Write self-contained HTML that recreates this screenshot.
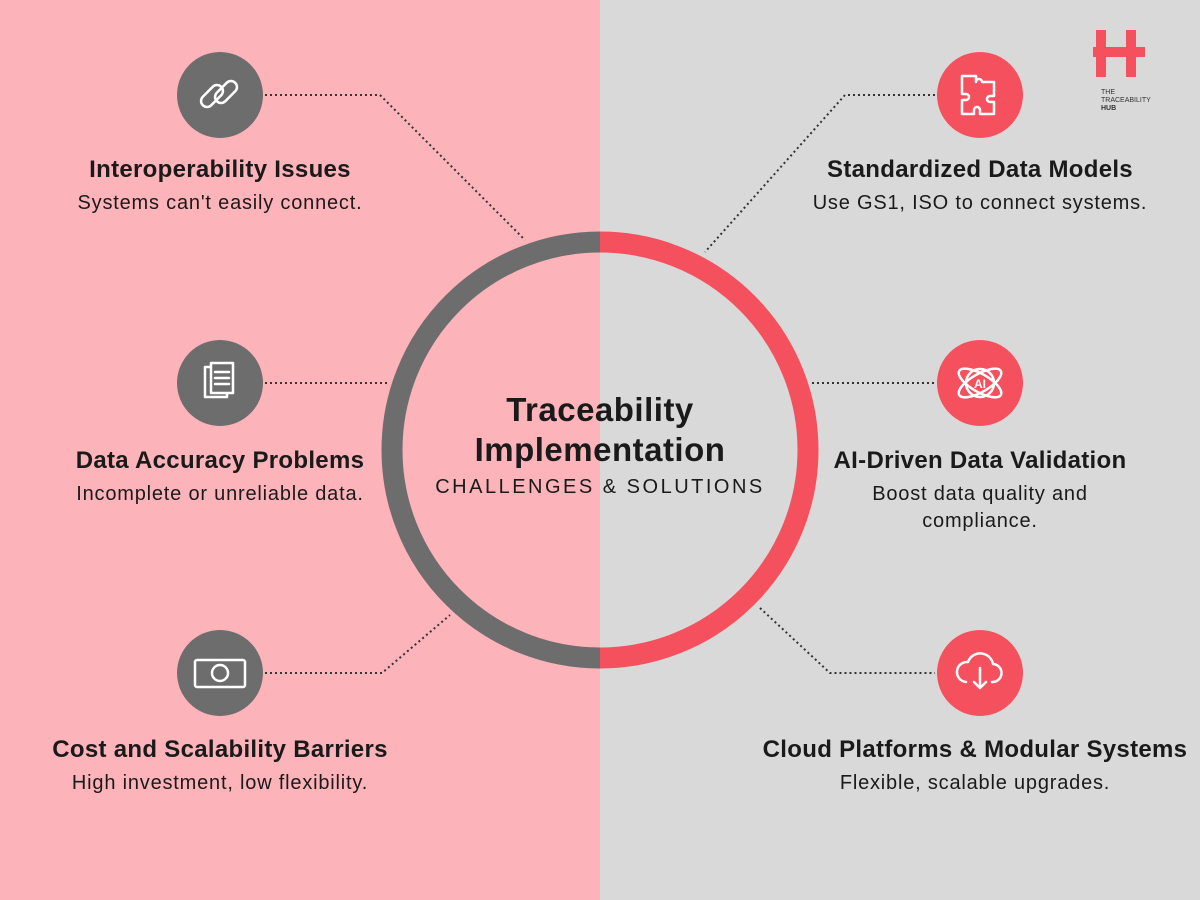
<!DOCTYPE html>
<html><head><meta charset="utf-8"><style>
body{margin:0}
#c{position:relative;width:1200px;height:900px;overflow:hidden;font-family:"Liberation Sans","DejaVu Sans",sans-serif;background:linear-gradient(90deg,#fdb3ba 0,#fdb3ba 600px,#d9d9d9 600px)}
.t{position:absolute;width:440px;text-align:center;color:#1a1a1a;white-space:nowrap}
.t b{display:block;font-size:24px;margin-bottom:6px;letter-spacing:0.3px}
.t span{font-size:20px;line-height:27px;letter-spacing:0.8px}
</style></head><body><div id="c">
<svg width="1200" height="900" style="position:absolute;left:0;top:0">
<g fill="none" stroke="#333" stroke-width="2" stroke-dasharray="2 3">
<polyline points="265,95 380,95 525,240"/>
<polyline points="265,383 388,383"/>
<polyline points="265,673 382,673 450,615"/>
<polyline points="935,95 845,95 705,252"/>
<polyline points="812,383 935,383"/>
<polyline points="760,608 830,673 935,673"/>
</g>
<path d="M600,242 A208,208 0 0 0 600,658" fill="none" stroke="#6d6d6d" stroke-width="21"/>
<path d="M600,242 A208,208 0 0 1 600,658" fill="none" stroke="#f5505d" stroke-width="21"/>
<g fill="#6d6d6d"><circle cx="220" cy="95" r="43"/><circle cx="220" cy="383" r="43"/><circle cx="220" cy="673" r="43"/></g>
<g fill="#f5505d"><circle cx="980" cy="95" r="43"/><circle cx="980" cy="383" r="43"/><circle cx="980" cy="673" r="43"/></g>
<g fill="none" stroke="#fff" stroke-width="2.5" stroke-linecap="round" stroke-linejoin="round">
<rect x="199" y="90" width="26" height="12" rx="6" transform="rotate(-45 212 96)"/>
<rect x="213" y="86" width="26" height="12" rx="6" transform="rotate(-45 226 92)"/>
<rect x="205" y="367" width="22" height="30" fill="#6d6d6d"/><rect x="211" y="363" width="22" height="30" fill="#6d6d6d"/>
<line x1="215" y1="372" x2="229" y2="372"/><line x1="215" y1="378" x2="229" y2="378"/><line x1="215" y1="384" x2="229" y2="384"/>
<rect x="195" y="660" width="50" height="27" rx="2"/><circle cx="220" cy="673" r="8"/>
<path d="M962,76h14v6a3,3 0 0 1 6,0v-0h0v0h12v14h-4a3,3 0 0 0 0,6h4v12h-14v-4a3,3 0 0 0 -6,0v4h-12v-14h4a3,3 0 0 0 0,-6h-4z"/>
<circle cx="980" cy="383" r="14"/><ellipse cx="980" cy="383" rx="24" ry="9" transform="rotate(30 980 383)"/><ellipse cx="980" cy="383" rx="24" ry="9" transform="rotate(-30 980 383)"/>
<path d="M966,682a10,10 0 0 1 2,-20a13,13 0 0 1 25,2a9,9 0 0 1 -1,18"/><path d="M980,668v20m-6,-6l6,6l6,-6"/>
</g>
<text x="980" y="388" fill="#fff" font-size="12" font-weight="bold" text-anchor="middle" font-family="Liberation Sans">AI</text>
<g fill="#f5505d"><rect x="1096" y="30" width="10" height="47"/><rect x="1126" y="30" width="10" height="47"/><rect x="1093" y="47" width="52" height="10"/></g>
<text x="1101" y="94" font-size="7" fill="#333" font-family="Liberation Sans">THE</text>
<text x="1101" y="102" font-size="7" fill="#333" font-family="Liberation Sans">TRACEABILITY</text>
<text x="1101" y="110" font-size="7" font-weight="bold" fill="#333" font-family="Liberation Sans">HUB</text>
</svg>
<div class="t" style="left:380px;top:390px;font-size:33px;font-weight:bold;line-height:40px;letter-spacing:0.5px">Traceability<br>Implementation</div>
<div class="t" style="left:380px;top:476px;font-size:20px;letter-spacing:2.5px">CHALLENGES &amp; SOLUTIONS</div>
<div class="t" style="left:0px;top:156px"><b>Interoperability Issues</b><span>Systems can't easily connect.</span></div>
<div class="t" style="left:0px;top:447px"><b>Data Accuracy Problems</b><span>Incomplete or unreliable data.</span></div>
<div class="t" style="left:0px;top:736px"><b>Cost and Scalability Barriers</b><span>High investment, low flexibility.</span></div>
<div class="t" style="left:760px;top:156px"><b>Standardized Data Models</b><span>Use GS1, ISO to connect systems.</span></div>
<div class="t" style="left:760px;top:447px"><b>AI-Driven Data Validation</b><span>Boost data quality and<br>compliance.</span></div>
<div class="t" style="left:750px;top:736px;width:450px"><b>Cloud Platforms &amp; Modular Systems</b><span>Flexible, scalable upgrades.</span></div>
</div></body></html>
